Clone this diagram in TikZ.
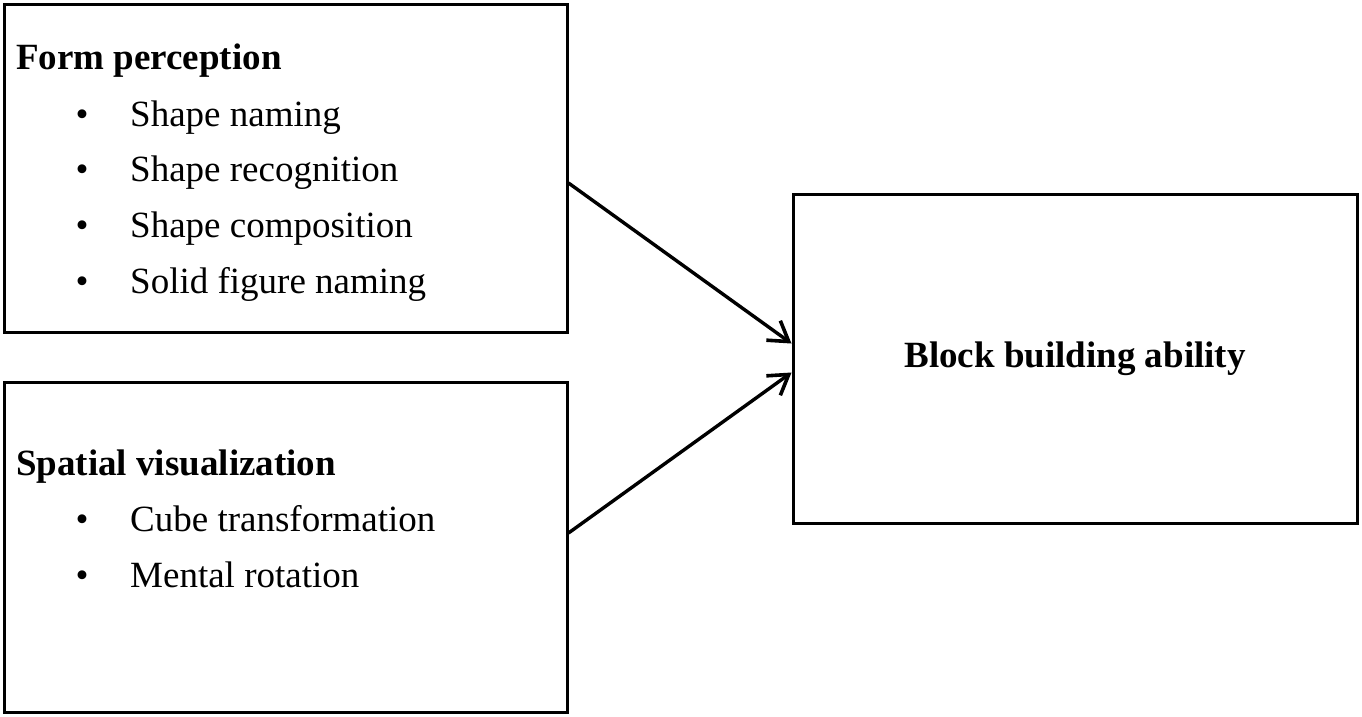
\documentclass[tikz,border=0pt]{standalone}
\usepackage{fontspec}
\setmainfont{Liberation Serif}
\usetikzlibrary{arrows.meta,positioning}

\begin{document}
\begin{tikzpicture}[x=1pt,y=-1pt]

% --- Stijldefinities ---
\tikzset{
    factorBox/.style={
        draw=black,
        line width=3pt,
        rectangle,
        inner sep=0pt
    },
    headLabel/.style={
        anchor=base west,
        inner sep=0pt,
        font=\fontsize{37}{44}\selectfont\bfseries
    },
    itemLabel/.style={
        anchor=base west,
        inner sep=0pt,
        font=\fontsize{37}{44}\selectfont
    },
    bulletLabel/.style={
        anchor=base,
        inner sep=0pt,
        font=\fontsize{37}{44}\selectfont
    },
    influenceArrow/.style={
        -{Straight Barb[length=19pt,width=24pt,line width=3.6pt]},
        line width=3.4pt
    }
}

\useasboundingbox (0,0) rectangle (1362,716);

% =========================================================
% Linker kaders
% =========================================================

\node[factorBox, minimum width=563pt, minimum height=328pt] (form) at (285.5,168) {};
\node[factorBox, minimum width=563pt, minimum height=330pt] (spatial) at (285.5,547) {};

% Koppen
\node[headLabel] (formHead) at (16,69) {Form perception};
\node[headLabel] (spatialHead) at (16,475) {Spatial visualization};

% Opsommingen
\foreach \txt [count=\i] in {Shape naming, Shape recognition, Shape composition, Solid figure naming} {
    \node[bulletLabel] (formBullet\i) at (82,{126+55.7*(\i-1)}) {\textbullet};
    \node[itemLabel] (formItem\i) at (130,{126+55.7*(\i-1)}) {\txt};
}
\foreach \txt [count=\i] in {Cube transformation, Mental rotation} {
    \node[bulletLabel] (spatialBullet\i) at (82,{531.5+55.5*(\i-1)}) {\textbullet};
    \node[itemLabel] (spatialItem\i) at (130,{531.5+55.5*(\i-1)}) {\txt};
}

% =========================================================
% Rechter kader
% =========================================================

\node[factorBox, minimum width=564pt, minimum height=329pt,
      font=\fontsize{37}{44}\selectfont\bfseries] (block) at (1075,358.5) {Block building ability};

% Pijlen
\draw[influenceArrow] ([yshift=-15pt]form.east) -- ([yshift=15pt]block.west);
\draw[influenceArrow] ([yshift=14pt]spatial.east) -- ([yshift=-14pt]block.west);

\end{tikzpicture}
\end{document}
